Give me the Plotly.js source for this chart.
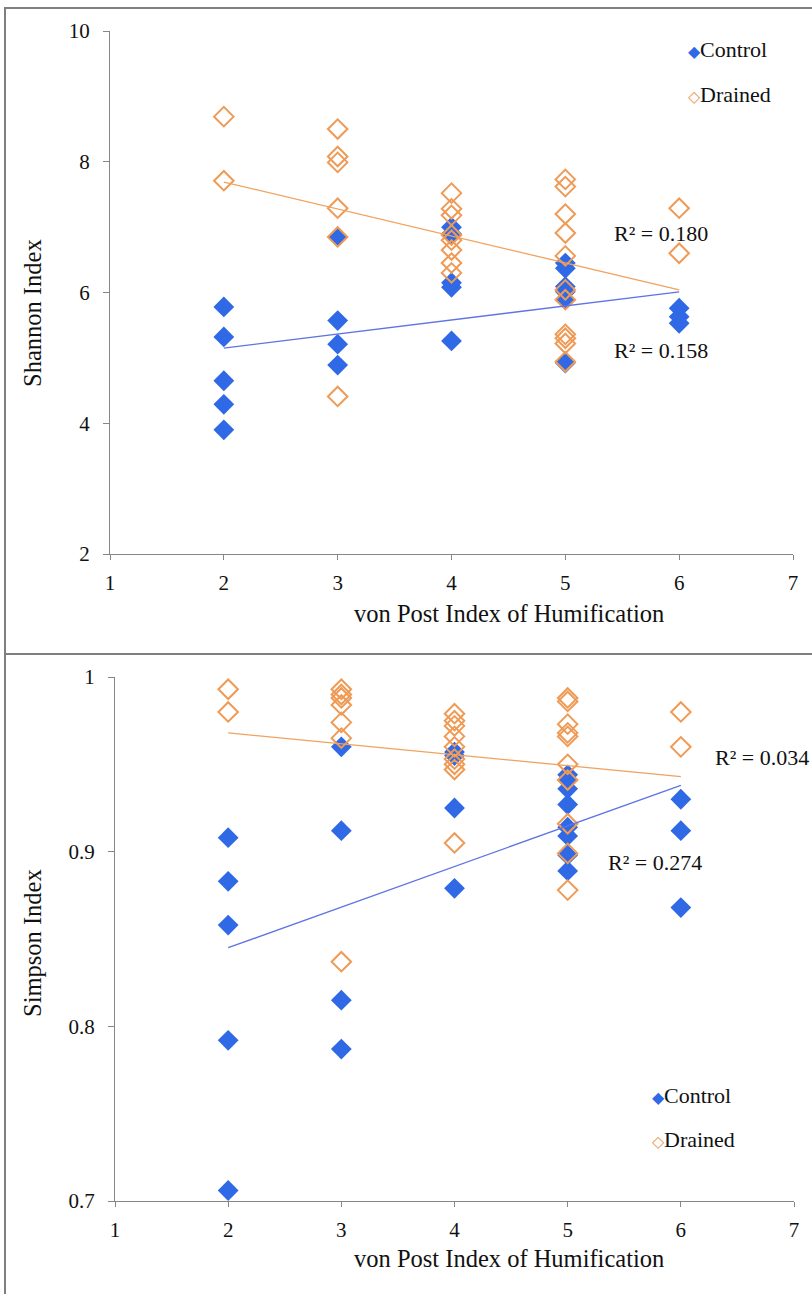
<!DOCTYPE html>
<html><head><meta charset="utf-8">
<script src="https://cdn.plot.ly/plotly-3.0.1.min.js"></script>
<style>html,body{margin:0;padding:0;background:#fff}</style>
</head><body><div id="chart" style="width:812px;height:1294px"></div>
<script>
// ---- Data: Shannon Index ----
const shControlX = [2,2,2,2,2, 3,3,3,3, 4,4,4,4,4, 5,5,5,5,5,5, 6,6,6];
const shControlY = [5.78,5.32,4.65,4.29,3.90, 6.85,5.57,5.21,4.89, 7.00,6.90,6.15,6.08,5.26, 6.45,6.37,6.09,6.01,5.89,4.92, 5.76,5.63,5.53];
const shDrainedX = [2,2, 3,3,3,3,3,3, 4,4,4,4,4,4,4,4, 5,5,5,5,5,5,5,5,5,5,5, 6,6];
const shDrainedY = [8.69,7.71, 8.50,8.08,7.99,7.29,6.85,4.41, 7.52,7.28,7.18,6.88,6.80,6.65,6.45,6.30, 7.73,7.62,7.20,6.91,6.56,6.04,5.89,5.36,5.30,5.22,4.94, 7.29,6.60];
const trendX = [2,6];
const shControlTrend = [5.15,6.01];
const shDrainedTrend = [7.69,6.04];
const shR2 = ["R² = 0.180","R² = 0.158"];

// ---- Data: Simpson Index ----
const siControlX = [2,2,2,2,2, 3,3,3,3, 4,4,4,4, 5,5,5,5,5,5,5,5, 6,6,6];
const siControlY = [0.908,0.883,0.858,0.792,0.706, 0.960,0.912,0.815,0.787, 0.957,0.955,0.925,0.879, 0.944,0.941,0.936,0.927,0.914,0.909,0.898,0.889, 0.930,0.912,0.868];
const siDrainedX = [2,2, 3,3,3,3,3,3,3, 4,4,4,4,4,4,4,4,4, 5,5,5,5,5,5,5,5,5,5, 6,6];
const siDrainedY = [0.993,0.980, 0.993,0.990,0.988,0.984,0.974,0.965,0.837, 0.979,0.975,0.972,0.966,0.960,0.953,0.950,0.947,0.905, 0.988,0.986,0.973,0.968,0.966,0.950,0.941,0.916,0.899,0.878, 0.980,0.960];
const siControlTrend = [0.845,0.938];
const siDrainedTrend = [0.968,0.943];
const siR2 = ["R² = 0.034","R² = 0.274"];

const xTitle = "von Post Index of Humification";
const yTitles = ["Shannon Index","Simpson Index"];
const seriesNames = ["Control","Drained"];

// ---- Style ----
const W = 812, H = 1294;
const BLUE = "#2f69e6", ORANGE = "#ef9a55";
const BLUE_LINE = "#5f73e3", ORANGE_LINE = "#f0a25e";
const FONT = "'Liberation Serif', 'Times New Roman', serif";
const AX = "#868686";
function px(x){ return x / W; }
function py(y){ return (H - y) / H; }

function ctrlTrace(x, y, xa, ya){
  return {x:x, y:y, xaxis:xa, yaxis:ya, type:"scatter", mode:"markers", name:"Control",
    marker:{symbol:"diamond", size:16, color:BLUE, line:{width:0}}, showlegend:false, hoverinfo:"x+y"};
}
function drTrace(x, y, xa, ya){
  return {x:x, y:y, xaxis:xa, yaxis:ya, type:"scatter", mode:"markers", name:"Drained",
    marker:{symbol:"diamond-open", size:15, color:ORANGE, line:{width:2, color:ORANGE}}, showlegend:false, hoverinfo:"x+y"};
}
function lineTrace(x, y, xa, ya, c){
  return {x:x, y:y, xaxis:xa, yaxis:ya, type:"scatter", mode:"lines", line:{color:c, width:1.3}, showlegend:false, hoverinfo:"skip"};
}

const data = [
  ctrlTrace(shControlX, shControlY, "x", "y"),
  drTrace(shDrainedX, shDrainedY, "x", "y"),
  lineTrace(trendX, shDrainedTrend, "x", "y", ORANGE_LINE),
  lineTrace(trendX, shControlTrend, "x", "y", BLUE_LINE),
  ctrlTrace(siControlX, siControlY, "x2", "y2"),
  drTrace(siDrainedX, siDrainedY, "x2", "y2"),
  lineTrace(trendX, siDrainedTrend, "x2", "y2", ORANGE_LINE),
  lineTrace(trendX, siControlTrend, "x2", "y2", BLUE_LINE)
];

const tickFont = {family:FONT, size:21, color:"#111"};
function xax(dom, anchor){
  return {domain:dom, anchor:anchor, range:[1,7], tick0:1, dtick:1, showline:true, linecolor:AX, linewidth:1,
    ticks:"outside", ticklen:5, tickcolor:AX, showgrid:false, zeroline:false, tickfont:tickFont,
    ticklabelstandoff:5, fixedrange:true};
}
function yax(dom, anchor, range, dtick){
  return {domain:dom, anchor:anchor, range:range, tick0:range[0], dtick:dtick, showline:true, linecolor:AX, linewidth:1,
    ticks:"outside", ticklen:6, tickcolor:AX, showgrid:false, zeroline:false, tickfont:tickFont,
    ticklabelstandoff:9, fixedrange:true};
}

const annFont = {family:FONT, size:22, color:"#111"};
const titleFont = {family:FONT, size:24.5, color:"#111"};
function legendAnn(xp, yp, sym, color, label){
  return {xref:"paper", yref:"paper", x:px(xp), y:py(yp), xanchor:"left", yanchor:"middle", showarrow:false,
    text:'<span style="color:'+color+';font-size:16px">'+sym+'</span>'+label, font:annFont};
}

const layout = {
  width:W, height:H, margin:{l:0,r:0,t:0,b:0}, paper_bgcolor:"#fff", plot_bgcolor:"#fff",
  showlegend:false, font:{family:FONT},
  xaxis: xax([px(110), px(793)], "y"),
  yaxis: yax([py(554), py(31)], "x", [2,10], 2),
  xaxis2: xax([px(115), px(794)], "y2"),
  yaxis2: yax([py(1201), py(677)], "x2", [0.7,1], 0.1),
  shapes: [
    {type:"rect", xref:"paper", yref:"paper", x0:px(5), x1:px(830), y0:py(654), y1:py(8), line:{color:"#7f7f7f", width:2}},
    {type:"rect", xref:"paper", yref:"paper", x0:px(5), x1:px(830), y0:py(1310), y1:py(654), line:{color:"#7f7f7f", width:2}}
  ],
  annotations: [
    {xref:"paper", yref:"paper", x:px(509), y:py(613), xanchor:"center", yanchor:"middle", showarrow:false, text:xTitle, font:titleFont},
    {xref:"paper", yref:"paper", x:px(509), y:py(1258), xanchor:"center", yanchor:"middle", showarrow:false, text:xTitle, font:titleFont},
    {xref:"paper", yref:"paper", x:px(32), y:py(313), xanchor:"center", yanchor:"middle", showarrow:false, text:yTitles[0], textangle:-90, font:titleFont},
    {xref:"paper", yref:"paper", x:px(32), y:py(943), xanchor:"center", yanchor:"middle", showarrow:false, text:yTitles[1], textangle:-90, font:titleFont},
    {xref:"x", yref:"y", x:5.84, y:6.91, xanchor:"center", yanchor:"middle", showarrow:false, text:shR2[0], font:annFont},
    {xref:"x", yref:"y", x:5.84, y:5.12, xanchor:"center", yanchor:"middle", showarrow:false, text:shR2[1], font:annFont},
    {xref:"x2", yref:"y2", x:6.72, y:0.9542, xanchor:"center", yanchor:"middle", showarrow:false, text:siR2[0], font:annFont},
    {xref:"x2", yref:"y2", x:5.77, y:0.894, xanchor:"center", yanchor:"middle", showarrow:false, text:siR2[1], font:annFont},
    legendAnn(686, 49, "◆", BLUE, seriesNames[0]),
    legendAnn(686, 94, "◇", ORANGE, seriesNames[1]),
    legendAnn(650, 1095, "◆", BLUE, seriesNames[0]),
    legendAnn(650, 1139, "◇", ORANGE, seriesNames[1])
  ]
};

Plotly.newPlot("chart", data, layout, {displayModeBar:false, staticPlot:true});
</script></body></html>
